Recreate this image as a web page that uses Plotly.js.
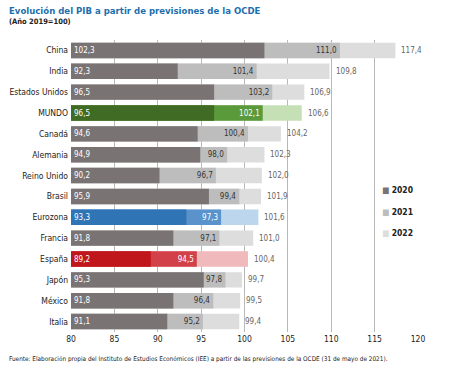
<!DOCTYPE html>
<html><head><meta charset="utf-8">
<script src="https://cdn.plot.ly/plotly-3.0.1.min.js"></script>
<style>html,body{margin:0;padding:0;background:#fff}#c{width:450px;height:375px}</style>
</head><body><div id="c"></div>
<script>
const countries = ["China","India","Estados Unidos","MUNDO","Canadá","Alemania","Reino Unido","Brasil","Eurozona","Francia","España","Japón","México","Italia"];
const v2020 = [102.3,92.3,96.5,96.5,94.6,94.9,90.2,95.9,93.3,91.8,89.2,95.3,91.8,91.1];
const v2021 = [111.0,101.4,103.2,102.1,100.4,98.0,96.7,99.4,97.3,97.1,94.5,97.8,96.4,95.2];
const v2022 = [117.4,109.8,106.9,106.6,104.2,102.3,102.0,101.9,101.6,101.0,100.4,99.7,99.5,99.4];
const years = ["2020","2021","2022"];

const FONT = "'Liberation Sans Narrow','DejaVu Sans Condensed',Arial Narrow,sans-serif";
const base = 80;
const special = {"MUNDO":["#3f6b24","#5b9a3a","#c6e0b5"],"Eurozona":["#2f74b5","#5a92cc","#bcd6ee"],"España":["#c0171d","#d2414a","#f0b9bb"]};
const defCol = ["#7a7373","#bdbdbd","#dddddd"];
const col = (k) => countries.map(c => (special[c] || defCol)[k]);
const txt2021 = countries.map(c => special[c] ? "#ffffff" : "#333333");
const fmt = v => v.toFixed(1).replace(".", ",");

function barTrace(vals, k, extra) {
  return Object.assign({
    type: "bar", orientation: "h", y: countries, x: vals.map(v => v - base), base: base,
    width: 0.74, marker: {color: col(k), line: {width: 0}}, name: years[k], showlegend: false,
    hoverinfo: "skip", cliponaxis: false,
    text: vals.map(fmt), textfont: {family: FONT, size: 8}
  }, extra);
}
const data = [
  barTrace(v2022, 2, {text: null, textposition: "none"}),
  barTrace(v2021, 1, {textposition: "inside", insidetextanchor: "end", textfont: {family: FONT, size: 8, color: txt2021}}),
  barTrace(v2020, 0, {textposition: "inside", insidetextanchor: "start", textfont: {family: FONT, size: 8, color: "#ffffff"}})
];

const ann = [
  {xref: "paper", yref: "paper", x: -64/347, y: 1 + 29/292, xanchor: "left", yanchor: "middle", showarrow: false,
   text: "<b>Evolución del PIB a partir de previsiones de la OCDE</b>", font: {family: FONT, size: 9.5, color: "#1d6fae"}},
  {xref: "paper", yref: "paper", x: -64/347, y: 1 + 18/292, xanchor: "left", yanchor: "middle", showarrow: false,
   text: "<b>(Año 2019=100)</b>", font: {family: FONT, size: 7.5, color: "#222"}},
  {xref: "paper", yref: "paper", x: -64/347, y: -27/292, xanchor: "left", yanchor: "middle", showarrow: false,
   text: "Fuente: Elaboración propia del Instituto de Estudios Económicos (IEE) a partir de las previsiones de la OCDE (31 de mayo de 2021).",
   font: {family: FONT, size: 6.4, color: "#222"}}
];
// 2022 value labels, outside bar ends
countries.forEach((c, i) => ann.push({x: v2022[i], y: c, xref: "x", yref: "y", xanchor: "left", yanchor: "middle",
  xshift: 4, showarrow: false, text: fmt(v2022[i]), font: {family: FONT, size: 8, color: "#666"}}));
// legend
years.forEach((y, k) => ann.push({xref: "paper", yref: "paper", x: (380 - 71)/347, y: (332 - 190 - k*21.5)/292,
  xanchor: "left", yanchor: "middle", showarrow: false,
  text: `<span style="color:${defCol[k]}">■</span> <b>${y}</b>`, font: {family: FONT, size: 8.5, color: "#222"}}));

const layout = {
  width: 450, height: 375, margin: {l: 71, r: 32, t: 40, b: 43},
  paper_bgcolor: "#fff", plot_bgcolor: "#fff", barmode: "overlay", separators: ",.",
  font: {family: FONT, size: 8, color: "#222"}, showlegend: false,
  xaxis: {range: [80, 120], dtick: 5, tick0: 80, showgrid: true, gridcolor: "#b8b8b8", gridwidth: 1,
    zeroline: false, showline: false, ticks: "", tickfont: {family: FONT, size: 8.5, color: "#222"}},
  yaxis: {autorange: "reversed", showgrid: false, ticks: "", showline: false,
    tickfont: {family: FONT, size: 8.5, color: "#222"}, ticklabelstandoff: 2},
  annotations: ann
};
Plotly.newPlot("c", data, layout, {staticPlot: true});
</script></body></html>
